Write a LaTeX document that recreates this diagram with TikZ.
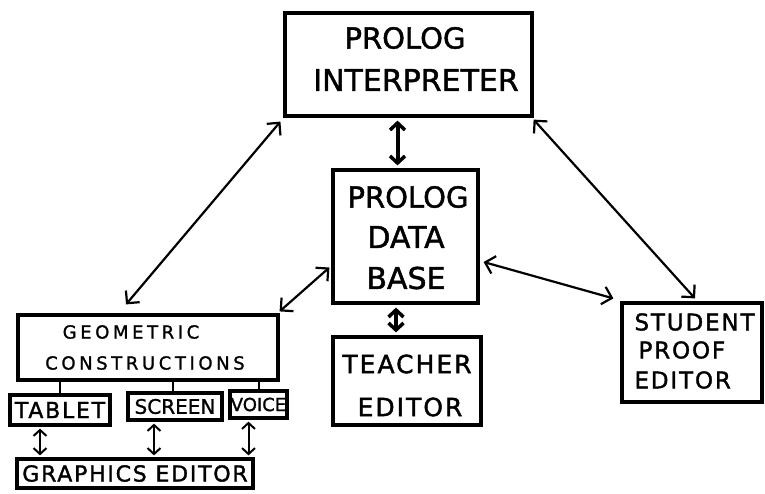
\documentclass[tikz,border=0pt]{standalone}
\usepackage{fontspec}
\setmainfont{DejaVu Sans}[FakeBold=1.2]
\newfontfamily\bigfont{DejaVu Sans}[FakeBold=1.5]
\newfontfamily\spfont{DejaVu Sans}[LetterSpace=8,FakeBold=1.5]
\newfontfamily\geofont{DejaVu Sans}[LetterSpace=20,FakeBold=1.2]
\usetikzlibrary{arrows.meta,calc}
\tikzset{
  box/.style={draw, line width=3.2pt, rectangle, inner sep=0pt, align=center},
  link/.style={line width=2.2pt, {Straight Barb[length=9pt,width=18pt,line width=2.2pt]}-{Straight Barb[length=9pt,width=18pt,line width=2.2pt]}},
  bold link/.style={line width=4pt, {Straight Barb[length=7pt,width=15pt,line width=3.5pt]}-{Straight Barb[length=7pt,width=15pt,line width=3.5pt]}},
  small link/.style={line width=2pt, {Straight Barb[length=6pt,width=13pt,line width=2pt]}-{Straight Barb[length=6pt,width=13pt,line width=2pt]}},
  tie/.style={line width=2pt}
}
\begin{document}
\begin{tikzpicture}[x=1pt,y=-1pt]
\useasboundingbox (0,0) rectangle (765,493);
% main boxes
\node[box, minimum width=247pt, minimum height=103pt] (interp) at (408.5,64.5) {};
\node[font=\bigfont\fontsize{29}{36}\selectfont] (interpt1) at (405,38) {PROLOG};
\node[font=\bigfont\fontsize{30}{36}\selectfont] (interpt2) at (416,80) {INTERPRETER};

\node[box, minimum width=145pt, minimum height=133pt] (db) at (405.5,236.5) {};
\node[font=\bigfont\fontsize{29}{36}\selectfont] (dbt1) at (408,197) {PROLOG};
\node[font=\bigfont\fontsize{30}{36}\selectfont] (dbt2) at (406,237) {DATA};
\node[font=\bigfont\fontsize{30}{36}\selectfont] (dbt3) at (406,278) {BASE};

\node[box, minimum width=148pt, minimum height=88pt] (teacher) at (407,381) {};
\node[font=\spfont\fontsize{25}{30}\selectfont] (teachert1) at (407,364) {TEACHER};
\node[font=\spfont\fontsize{25}{30}\selectfont] (teachert2) at (410,407) {EDITOR};

\node[box, minimum width=140pt, minimum height=99pt] (student) at (692,352.5) {};
\node[font=\spfont\fontsize{23}{28}\selectfont, anchor=west] (studentt1) at (631,322) {STUDENT};
\node[font=\spfont\fontsize{23}{28}\selectfont, anchor=west] (studentt2) at (635,350) {PROOF};
\node[font=\spfont\fontsize{23}{28}\selectfont, anchor=west] (studentt3) at (631,380) {EDITOR};

\node[box, minimum width=260pt, minimum height=65pt] (geo) at (148,347.5) {};
\node[font=\geofont\fontsize{18}{22}\selectfont] (geot1) at (131,332) {GEOMETRIC};
\node[font=\geofont\fontsize{18}{22}\selectfont] (geot2) at (145,363) {CONSTRUCTIONS};

% device boxes
\node[box, minimum width=100pt, minimum height=30pt, font=\spfont\fontsize{22}{26}\selectfont] (tablet) at (60,410) {TABLET};
\node[box, minimum width=94pt, minimum height=27pt, font=\fontsize{20}{24}\selectfont] (screen) at (175,406.5) {SCREEN};
\node[box, minimum width=57pt, minimum height=27pt, font=\fontsize{18}{22}\selectfont] (voice) at (258.5,404.5) {VOICE};
\node[box, minimum width=236pt, minimum height=29pt, font=\spfont\fontsize{22}{26}\selectfont] (graphics) at (135,473.5) {GRAPHICS EDITOR};

% ties from geometric constructions
\draw[tie] (tablet.north) -- (tablet.north |- geo.south);
\draw[tie] ($(screen.north)+(-2,0)$) coordinate (sc0) -- (sc0 |- geo.south);
\draw[tie] (voice.north) -- (voice.north |- geo.south);

% device arrows
\draw[small link] ($(tablet.south)+(-20,2)$) coordinate (ta) -- ($(ta |- graphics.north)+(0,-2)$);
\draw[small link] ($(screen.south)+(-21,2)$) coordinate (sa) -- ($(sa |- graphics.north)+(0,-2)$);
\draw[small link] ($(voice.south)+(-10,2)$) coordinate (va) -- ($(va |- graphics.north)+(0,-2)$);

% bold vertical arrows
\draw[bold link] ($(interp.south)+(-11,3)$) coordinate (ia) -- ($(ia |- db.north)+(0,-3)$);
\draw[bold link] ($(db.south)+(-9.5,3)$) coordinate (da) -- ($(da |- teacher.north)+(0,-3)$);

% diagonal arrows
\draw[link] ($(interp.south west)+(-3,4)$) -- ($(geo.north)+(-22,-9)$);
\draw[link] ($(db.west)+(-2,31)$) -- ($(geo.north east)+(0,-2)$);
\draw[link] ($(interp.south east)+(0,2)$) -- ($(student.north)+(3,-3)$);
\draw[link] ($(db.east)+(4,25.5)$) -- ($(student.north west)+(-7,-3)$);
\end{tikzpicture}
\end{document}
